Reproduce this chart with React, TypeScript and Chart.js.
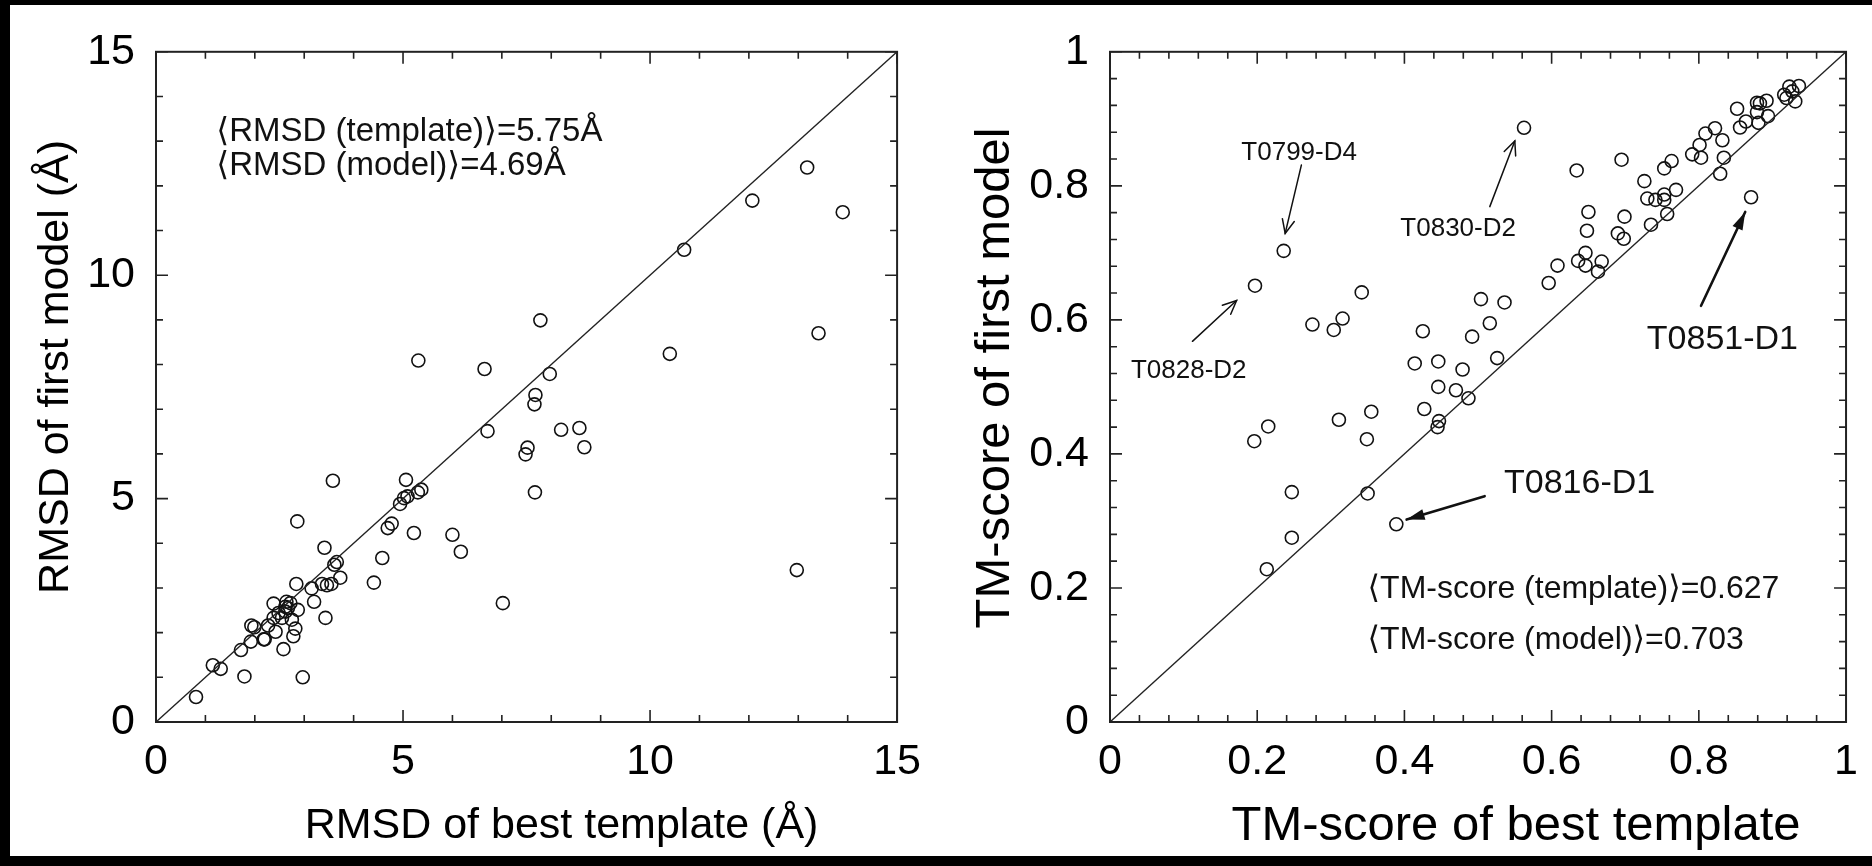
import React, { useEffect, useRef } from 'react';
import { Chart, registerables } from 'chart.js';

Chart.register(...registerables);

const FONT = '"Liberation Sans", Arial, "DejaVu Sans", sans-serif';

// ---------------- RMSD panel data ----------------
const rmsdTemplate = [
  13.18, 12.07, 13.9, 10.69, 7.78, 13.41, 10.40, 5.31, 6.65, 7.97, 7.68, 7.66, 8.20, 8.57, 12.97,
  6.71, 7.52, 7.48, 7.67, 8.67, 3.58, 5.06, 5.30, 5.37, 5.09, 5.02, 4.94, 4.77, 4.69, 5.22,
  6.00, 6.17, 4.58, 4.41, 7.02, 2.86, 3.41, 3.66, 3.61, 3.73, 3.36, 3.46, 3.55, 3.15, 2.84,
  3.20, 3.43, 2.87, 2.38, 2.64, 2.62, 2.67, 2.48, 2.38, 2.55, 2.75, 2.82, 2.27, 2.42, 2.78,
  2.58, 1.93, 1.99, 2.20, 2.18, 1.92, 1.72, 1.15, 1.31, 1.79, 2.97, 0.81, 2.62, 2.72,
];
const rmsdModel = [
  12.41, 11.67, 11.41, 10.57, 8.99, 8.70, 8.24, 8.09, 7.90, 7.79, 7.32, 7.11, 6.54, 6.58, 3.40,
  6.51, 6.14, 5.99, 5.14, 6.15, 5.40, 5.42, 5.14, 5.20, 5.05, 5.01, 4.88, 4.44, 4.34, 4.23,
  4.19, 3.81, 3.67, 3.12, 2.66, 4.49, 3.90, 3.58, 3.52, 3.23, 3.09, 3.06, 3.09, 2.99, 3.09,
  2.69, 2.33, 2.51, 2.65, 2.69, 2.58, 2.55, 2.44, 2.33, 2.33, 2.29, 2.09, 2.16, 2.02, 1.92,
  1.63, 2.16, 2.12, 1.85, 1.85, 1.80, 1.61, 1.27, 1.19, 1.02, 1.00, 0.56, 2.47, 2.66,
];
const rmsdTicks = [0, 5, 10, 15];
const rmsdMinorStep = 1;
const rmsdStats = ['\u27E8RMSD (template)\u27E9=5.75\u00C5', '\u27E8RMSD (model)\u27E9=4.69\u00C5'];
const rmsdStatsX = 1.22;
const rmsdStatsY = [13.2, 12.44];
const rmsdXTitle = 'RMSD of best template (\u00C5)';
const rmsdYTitle = 'RMSD of first model (\u00C5)';

// ---------------- TM-score panel data ----------------
const tmTemplate = [
  0.5625, 0.634, 0.695, 0.871, 0.650, 0.648, 0.646, 0.636, 0.646, 0.668, 0.663, 0.608, 0.596, 0.699,
  0.690, 0.698, 0.735, 0.726, 0.730, 0.741, 0.753, 0.753, 0.769, 0.757, 0.753, 0.763, 0.791, 0.803,
  0.801, 0.809, 0.822, 0.832, 0.834, 0.829, 0.852, 0.856, 0.864, 0.879, 0.883, 0.892, 0.879, 0.881,
  0.894, 0.916, 0.923, 0.927, 0.936, 0.919, 0.931, 0.504, 0.536, 0.516, 0.492, 0.526, 0.479, 0.470,
  0.487, 0.236, 0.197, 0.342, 0.275, 0.304, 0.316, 0.425, 0.414, 0.446, 0.446, 0.427, 0.447, 0.445,
  0.311, 0.355, 0.349, 0.196, 0.215, 0.247, 0.350, 0.389, 0.247, 0.213,
];
const tmModel = [
  0.8866, 0.823, 0.839, 0.783, 0.761, 0.733, 0.700, 0.688, 0.681, 0.687, 0.672, 0.681, 0.655, 0.754,
  0.729, 0.721, 0.742, 0.807, 0.781, 0.779, 0.787, 0.779, 0.794, 0.758, 0.826, 0.837, 0.847, 0.842,
  0.861, 0.878, 0.886, 0.868, 0.842, 0.818, 0.915, 0.887, 0.896, 0.924, 0.923, 0.927, 0.910, 0.894,
  0.904, 0.936, 0.948, 0.941, 0.949, 0.931, 0.926, 0.631, 0.626, 0.595, 0.575, 0.543, 0.526, 0.495,
  0.483, 0.703, 0.651, 0.641, 0.593, 0.585, 0.602, 0.583, 0.535, 0.538, 0.500, 0.467, 0.449, 0.440,
  0.451, 0.463, 0.422, 0.419, 0.441, 0.343, 0.341, 0.295, 0.275, 0.228,
];
const tmTicks = [0, 0.2, 0.4, 0.6, 0.8, 1];
const tmMinorStep = 0.04;
const tmStats = ['\u27E8TM-score (template)\u27E9=0.627', '\u27E8TM-score (model)\u27E9=0.703'];
const tmStatsX = 0.35;
const tmStatsY = [0.198, 0.122];
const tmXTitle = 'TM-score of best template';
const tmYTitle = 'TM-score of first model';

// labelled targets (text anchor and arrow, in data units)
const tmAnnoLabels = ['T0799-D4', 'T0830-D2', 'T0828-D2', 'T0816-D1', 'T0851-D1'];
const tmAnnoTextX = [0.257, 0.473, 0.107, 0.638, 0.832];
const tmAnnoTextY = [0.849, 0.736, 0.524, 0.356, 0.570];
const tmArrowFromX = [0.260, 0.516, 0.112, 0.509, 0.803];
const tmArrowFromY = [0.831, 0.769, 0.568, 0.337, 0.621];
const tmArrowToX = [0.238, 0.550, 0.172, 0.403, 0.863];
const tmArrowToY = [0.729, 0.867, 0.629, 0.302, 0.761];
// style per annotation: true = large bold arrow
const tmAnnoBig = [false, false, false, true, true];

// ---------------- drawing helpers ----------------
function drawArrow(ctx: CanvasRenderingContext2D, x0: number, y0: number, x1: number, y1: number, big: boolean) {
  const ang = Math.atan2(y1 - y0, x1 - x0);
  ctx.save();
  ctx.strokeStyle = '#111';
  ctx.fillStyle = '#111';
  ctx.lineWidth = big ? 2.6 : 1.5;
  ctx.lineCap = 'round';
  ctx.beginPath();
  ctx.moveTo(x0, y0);
  ctx.lineTo(x1, y1);
  ctx.stroke();
  if (big) {
    const L = 18, W = 5.5;
    const bx = x1 - L * Math.cos(ang), by = y1 - L * Math.sin(ang);
    ctx.beginPath();
    ctx.moveTo(x1, y1);
    ctx.lineTo(bx + W * Math.sin(ang), by - W * Math.cos(ang));
    ctx.lineTo(bx - W * Math.sin(ang), by + W * Math.cos(ang));
    ctx.closePath();
    ctx.fill();
  } else {
    const L = 15, a = 0.42;
    ctx.beginPath();
    ctx.moveTo(x1 - L * Math.cos(ang - a), y1 - L * Math.sin(ang - a));
    ctx.lineTo(x1, y1);
    ctx.lineTo(x1 - L * Math.cos(ang + a), y1 - L * Math.sin(ang + a));
    ctx.stroke();
  }
  ctx.restore();
}

const framePlugin = {
  id: 'frame',
  beforeDraw(chart: any) {
    const { ctx, width, height } = chart;
    ctx.save();
    ctx.fillStyle = '#fff';
    ctx.fillRect(0, 0, width, height);
    ctx.restore();
  },
  afterDraw(chart: any, _args: any, opts: any) {
    const { ctx, chartArea: a } = chart;
    const xs = chart.scales.x, ys = chart.scales.y;
    ctx.save();
    // frame
    ctx.strokeStyle = '#222';
    ctx.lineWidth = 2;
    ctx.strokeRect(a.left, a.top, a.right - a.left, a.bottom - a.top);
    // inward ticks on all four sides
    ctx.lineWidth = 1.6;
    const nx = Math.round((xs.max - xs.min) / opts.minor);
    for (let i = 0; i <= nx; i++) {
      const v = xs.min + i * opts.minor;
      const major = opts.majors.some((m: number) => Math.abs(m - v) < 1e-6);
      const len = major ? 12 : 7;
      const px = xs.getPixelForValue(v);
      ctx.beginPath();
      ctx.moveTo(px, a.bottom); ctx.lineTo(px, a.bottom - len);
      ctx.moveTo(px, a.top); ctx.lineTo(px, a.top + len);
      ctx.stroke();
    }
    const ny = Math.round((ys.max - ys.min) / opts.minor);
    for (let i = 0; i <= ny; i++) {
      const v = ys.min + i * opts.minor;
      const major = opts.majors.some((m: number) => Math.abs(m - v) < 1e-6);
      const len = major ? 12 : 7;
      const py = ys.getPixelForValue(v);
      ctx.beginPath();
      ctx.moveTo(a.left, py); ctx.lineTo(a.left + len, py);
      ctx.moveTo(a.right, py); ctx.lineTo(a.right - len, py);
      ctx.stroke();
    }
    // stats text
    ctx.fillStyle = '#111';
    ctx.textAlign = 'left';
    ctx.textBaseline = 'middle';
    ctx.font = `${opts.statsSize}px ${FONT}`;
    opts.stats.forEach((t: string, i: number) => {
      ctx.fillText(t, xs.getPixelForValue(opts.statsX), ys.getPixelForValue(opts.statsY[i]));
    });
    // annotations
    (opts.annos || []).forEach((an: any) => {
      ctx.font = `${an.big ? 34 : 26}px ${FONT}`;
      ctx.textAlign = 'center';
      ctx.fillText(an.label, xs.getPixelForValue(an.tx), ys.getPixelForValue(an.ty));
      drawArrow(ctx, xs.getPixelForValue(an.fx), ys.getPixelForValue(an.fy),
        xs.getPixelForValue(an.ex), ys.getPixelForValue(an.ey), an.big);
    });
    // axis titles
    ctx.fillStyle = '#000';
    ctx.font = `${opts.titleSize}px ${FONT}`;
    ctx.textAlign = 'center';
    ctx.textBaseline = 'middle';
    const cx = (a.left + a.right) / 2, cy = (a.top + a.bottom) / 2;
    ctx.fillText(opts.xTitle, cx + opts.xTitleDx, a.bottom + opts.xTitleDy);
    ctx.save();
    ctx.translate(a.left - opts.yTitleDx, cy + opts.yTitleDy);
    ctx.rotate(-Math.PI / 2);
    ctx.fillText(opts.yTitle, 0, 0);
    ctx.restore();
    ctx.restore();
  },
};

type PanelSpec = {
  w: number; h: number;
  area: { left: number; top: number; right: number; bottom: number };
  xs: number[]; ys: number[]; max: number; ticks: number[]; minor: number;
  tickSize: number; plugin: any;
};

function makeConfig(p: PanelSpec): any {
  const pts = p.xs.map((x, i) => ({ x, y: p.ys[i] }));
  const setTicks = (s: any) => { s.ticks = p.ticks.map((v) => ({ value: v })); };
  const fmt = (v: any) => String(Number(Number(v).toFixed(3)));
  const tickFont = { family: FONT, size: p.tickSize };
  return {
    type: 'scatter',
    data: {
      datasets: [
        {
          data: [{ x: 0, y: 0 }, { x: p.max, y: p.max }],
          showLine: true,
          borderColor: '#222',
          borderWidth: 1.4,
          pointRadius: 0,
          clip: false,
        },
        {
          data: pts,
          pointRadius: 6.5,
          pointBorderWidth: 1.6,
          pointBorderColor: '#111',
          pointBackgroundColor: 'rgba(0,0,0,0)',
          showLine: false,
          clip: false,
        },
      ],
    },
    options: {
      responsive: false,
      animation: false,
      events: [],
      layout: { padding: { top: p.area.top, right: p.w - p.area.right, left: 0, bottom: 0 } },
      plugins: { legend: { display: false }, tooltip: { enabled: false }, frame: p.plugin },
      scales: {
        x: {
          type: 'linear', min: 0, max: p.max, position: 'bottom',
          grid: { display: false, drawTicks: false }, border: { display: false },
          afterBuildTicks: setTicks,
          ticks: { font: tickFont, color: '#000', padding: 14, maxRotation: 0, autoSkip: false, callback: fmt },
          afterFit: (s: any) => { s.height = p.h - p.area.bottom; },
        },
        y: {
          type: 'linear', min: 0, max: p.max, position: 'left',
          grid: { display: false, drawTicks: false }, border: { display: false },
          afterBuildTicks: setTicks,
          ticks: { font: tickFont, color: '#000', padding: 21, autoSkip: false, callback: fmt },
          afterFit: (s: any) => { s.width = p.area.left; },
        },
      },
    },
    plugins: [framePlugin],
  };
}

const LEFT = { x: 10, y: 5, w: 925, h: 851 };
const RIGHT = { x: 935, y: 5, w: 937, h: 851 };

export default function App() {
  const leftRef = useRef<HTMLCanvasElement>(null);
  const rightRef = useRef<HTMLCanvasElement>(null);

  useEffect(() => {
    document.body.style.margin = '0';
    const left = new Chart(leftRef.current as HTMLCanvasElement, makeConfig({
      w: LEFT.w, h: LEFT.h,
      area: { left: 146, top: 38, right: 895, bottom: 717 },
      xs: rmsdTemplate, ys: rmsdModel, max: 15, ticks: rmsdTicks, minor: rmsdMinorStep, tickSize: 43,
      plugin: {
        minor: rmsdMinorStep, majors: rmsdTicks,
        stats: rmsdStats, statsX: rmsdStatsX, statsY: rmsdStatsY, statsSize: 33,
        xTitle: rmsdXTitle, yTitle: rmsdYTitle, titleSize: 43,
        xTitleDx: 35, xTitleDy: 104, yTitleDx: 100, yTitleDy: -20,
        annos: [],
      },
    }));
    const annos = tmAnnoLabels.map((label, i) => ({
      label, tx: tmAnnoTextX[i], ty: tmAnnoTextY[i],
      fx: tmArrowFromX[i], fy: tmArrowFromY[i], ex: tmArrowToX[i], ey: tmArrowToY[i], big: tmAnnoBig[i],
    }));
    const right = new Chart(rightRef.current as HTMLCanvasElement, makeConfig({
      w: RIGHT.w, h: RIGHT.h,
      area: { left: 175, top: 38, right: 924, bottom: 717 },
      xs: tmTemplate, ys: tmModel, max: 1, ticks: tmTicks, minor: tmMinorStep, tickSize: 43,
      plugin: {
        minor: tmMinorStep, majors: tmTicks,
        stats: tmStats, statsX: tmStatsX, statsY: tmStatsY, statsSize: 32,
        xTitle: tmXTitle, yTitle: tmYTitle, titleSize: 49,
        xTitleDx: 38, xTitleDy: 104, yTitleDx: 115, yTitleDy: -9,
        annos,
      },
    }));
    return () => { left.destroy(); right.destroy(); };
  }, []);

  return (
    <div style={{ position: 'absolute', left: 0, top: 0, width: 1872, height: 866, background: '#000', overflow: 'hidden' }}>
      <canvas ref={leftRef} width={LEFT.w} height={LEFT.h}
        style={{ position: 'absolute', left: LEFT.x, top: LEFT.y, width: LEFT.w, height: LEFT.h }} />
      <canvas ref={rightRef} width={RIGHT.w} height={RIGHT.h}
        style={{ position: 'absolute', left: RIGHT.x, top: RIGHT.y, width: RIGHT.w, height: RIGHT.h }} />
    </div>
  );
}
